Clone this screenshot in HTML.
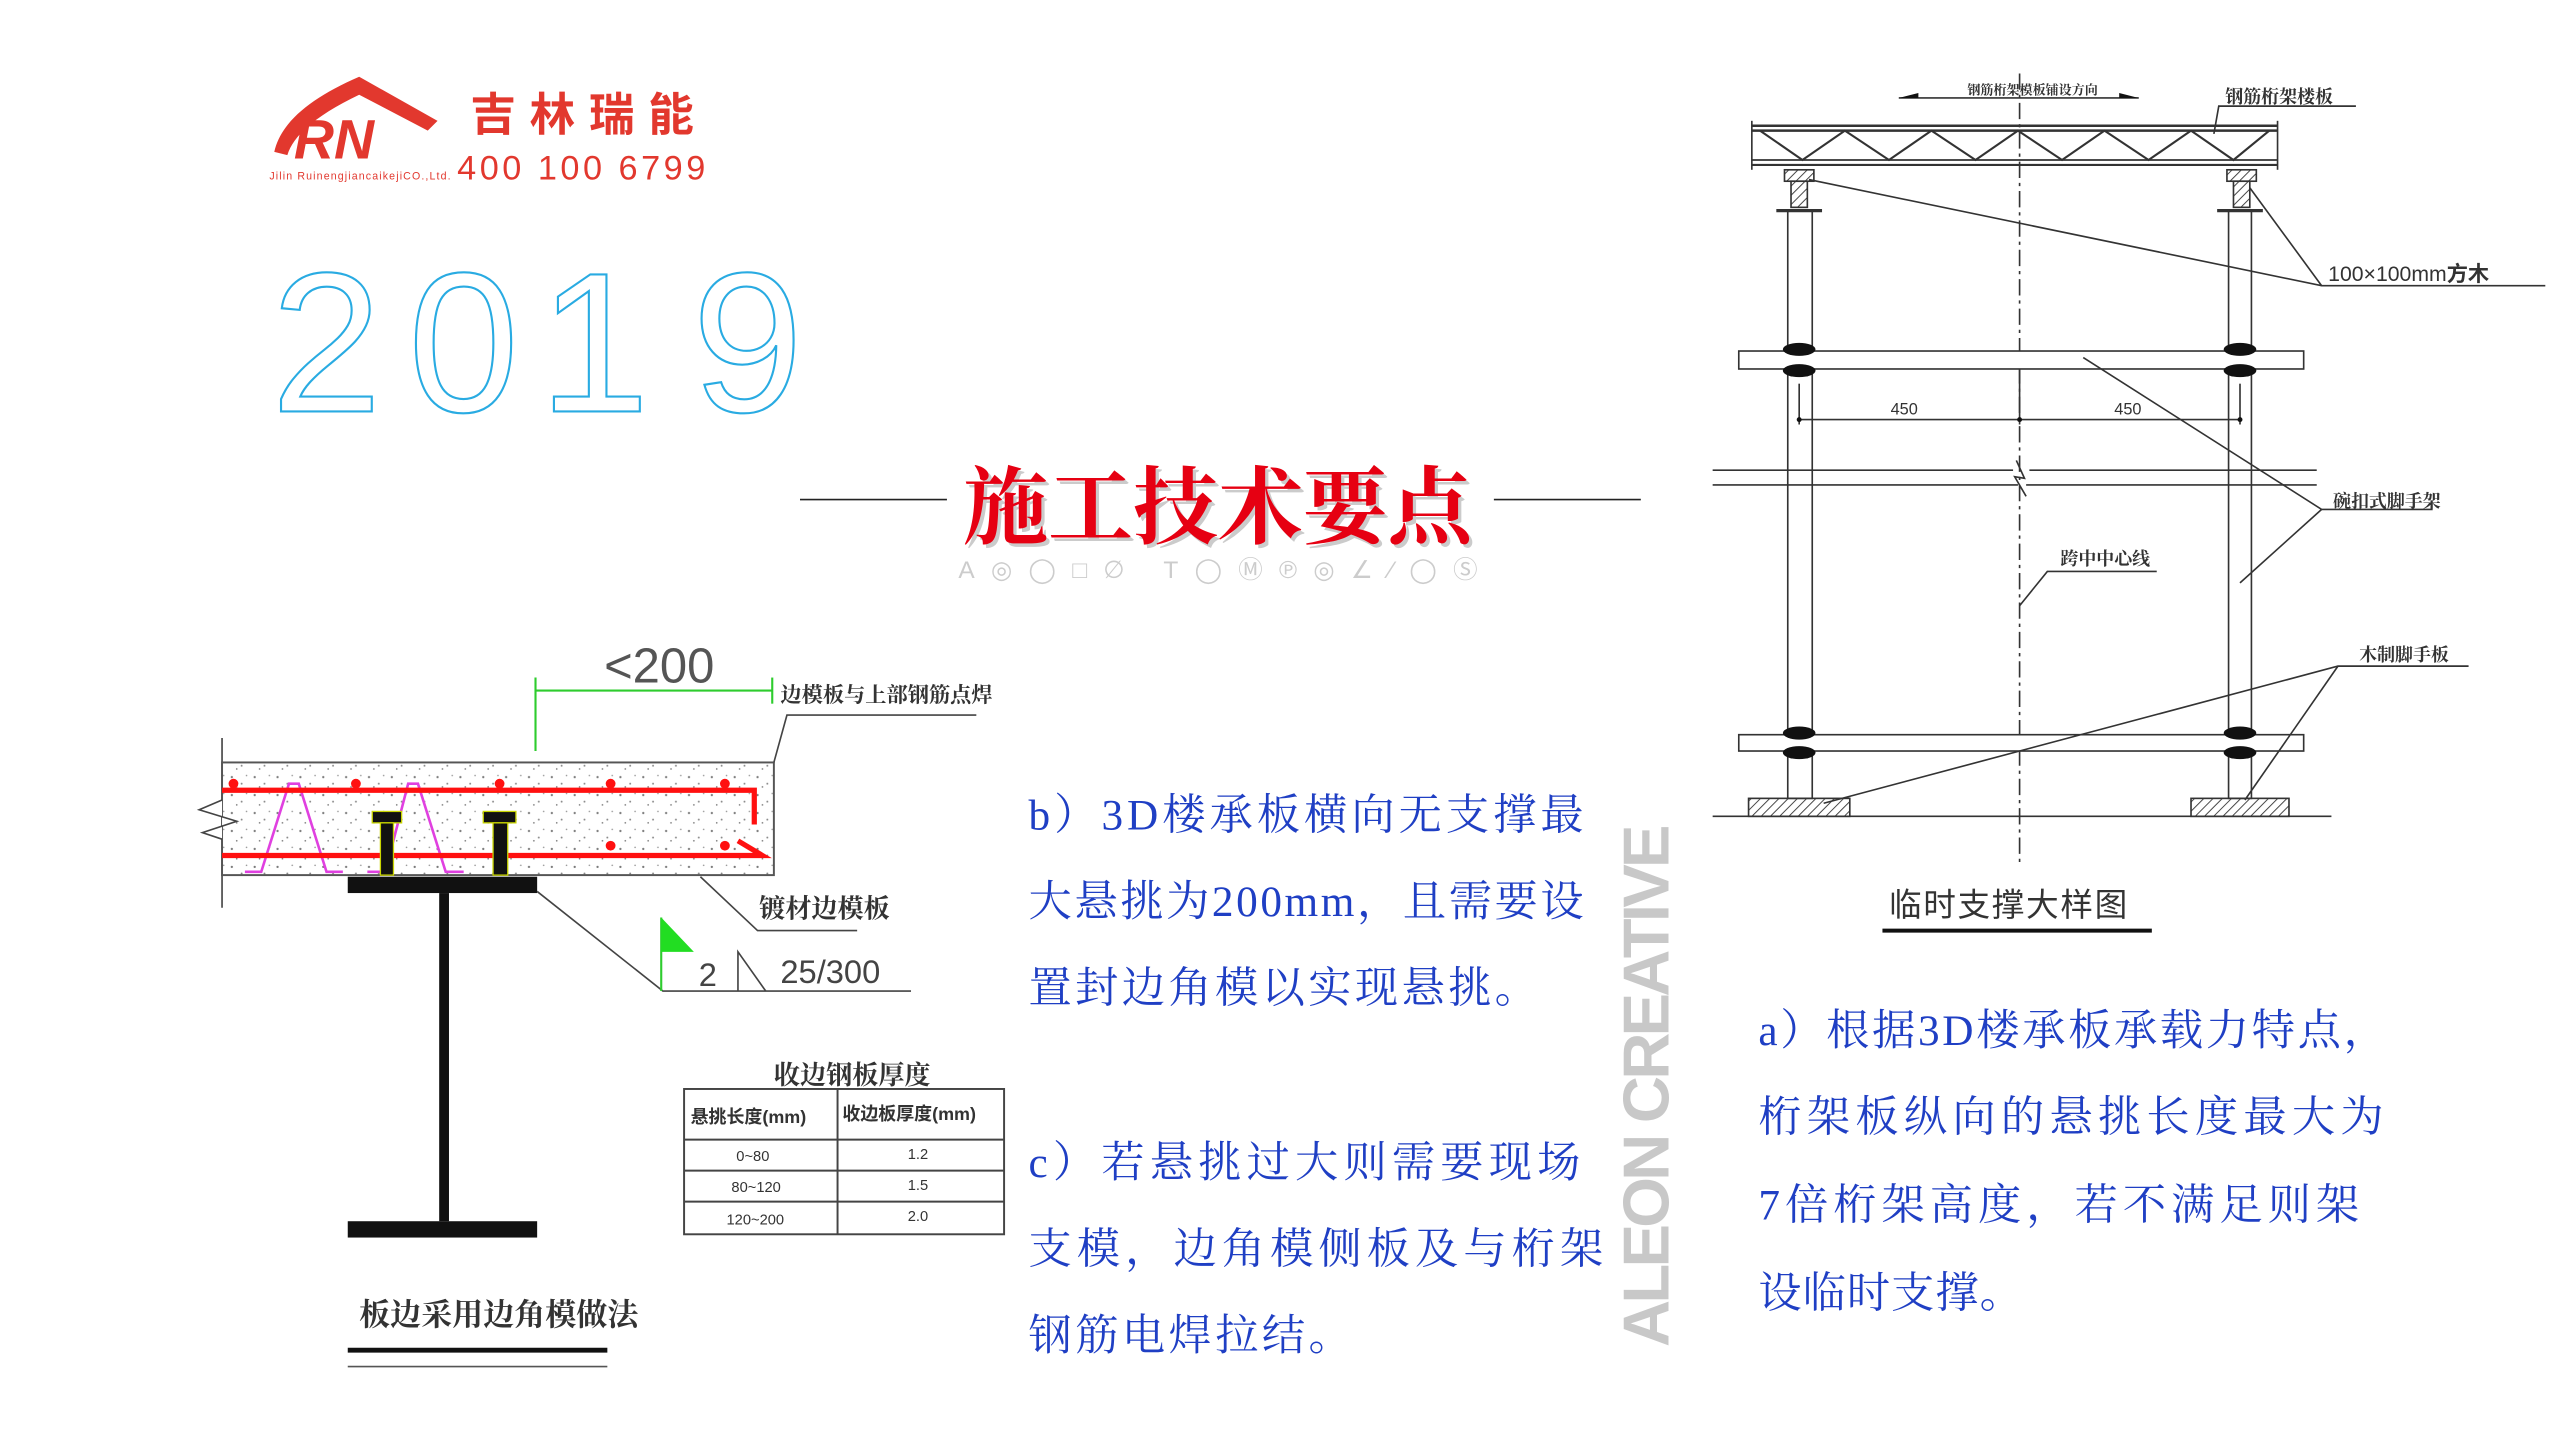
<!DOCTYPE html>
<html><head><meta charset="utf-8"><style>
html,body{margin:0;padding:0;background:#fff;}
svg{display:block;}
</style></head><body>
<svg width="2560" height="1440" viewBox="0 0 1568 882" xmlns="http://www.w3.org/2000/svg">
<defs>
<pattern id="sp" width="14" height="11" patternUnits="userSpaceOnUse">
<circle cx="2" cy="3" r="0.7" fill="#777"/><circle cx="8" cy="7" r="0.6" fill="#888"/><circle cx="11" cy="2" r="0.5" fill="#999"/><circle cx="5" cy="9" r="0.5" fill="#777"/>
</pattern>
<pattern id="hat" width="4" height="4" patternUnits="userSpaceOnUse" patternTransform="rotate(45)">
<line x1="0" y1="0" x2="0" y2="4" stroke="#444" stroke-width="1.2"/>
</pattern>
</defs>
<rect width="1568" height="882" fill="#fff"/>

<path d="M168,93 C172,75 190,60 220,47 L268,74 L262,80 L220,58 C195,70 180,82 176,95 Z" fill="#e2382e"/>
<text x="180" y="97" font-family="Liberation Sans, sans-serif" font-weight="bold" font-style="italic" font-size="34" fill="#e2382e">RN</text>
<text x="288" y="80" font-family="Liberation Sans, 'Noto Sans CJK SC', sans-serif" font-weight="bold" font-size="28" fill="#e2382e" textLength="137" lengthAdjust="spacing">吉林瑞能</text>
<text x="280" y="110" font-family="Liberation Sans, sans-serif" font-size="21" fill="#e2382e" textLength="152">400 100 6799</text>
<text x="165" y="110" font-family="Liberation Sans, sans-serif" font-size="6.5" fill="#e2382e" textLength="111">Jilin RuinengjiancaikejiCO.,Ltd.</text>

<g font-family="Liberation Sans, sans-serif" font-size="122" fill="none" stroke="#29abe2" stroke-width="1.3">
<text x="166" y="252">2</text><text x="250" y="252">0</text><text x="330" y="252">1</text><text x="424" y="252">9</text>
</g>

<line x1="490" y1="306" x2="580" y2="306" stroke="#222" stroke-width="1"/>
<line x1="915" y1="306" x2="1005" y2="306" stroke="#222" stroke-width="1"/>
<text x="592" y="331" font-family="'Liberation Serif','Noto Serif CJK SC',serif" font-weight="bold" font-size="52" fill="#999" opacity="0.5">施工技术要点</text>
<text x="590" y="329" font-family="'Liberation Serif','Noto Serif CJK SC',serif" font-weight="bold" font-size="52" fill="#e60012">施工技术要点</text>
<text x="587" y="354" font-family="Liberation Sans,'DejaVu Sans',sans-serif" font-size="15" fill="#ccc" textLength="318">A◎◯□∅ T◯Ⓜ℗◎∠⁄◯Ⓢ</text>

<line x1="136" y1="452" x2="136" y2="556" stroke="#444" stroke-width="1"/>
<rect x="136" y="467" width="338" height="69" fill="url(#sp)" stroke="#555" stroke-width="1.2"/>
<polyline points="136,490 122,496 145,503 124,510 136,514" fill="#fff" stroke="#444" stroke-width="1"/>
<polyline points="150,534 160,534 177,480 183,480 200,534 210,534" fill="none" stroke="#e040e0" stroke-width="1.6"/>
<polyline points="225,534 236,534 250,480 256,480 273,534 284,534" fill="none" stroke="#e040e0" stroke-width="1.6"/>
<polyline points="136,484 462,484 462,505" fill="none" stroke="#ff1010" stroke-width="3.2"/>
<polyline points="136,524 467,524 452,515" fill="none" stroke="#ff1010" stroke-width="3.2"/>
<g fill="#ff1010"><circle cx="143" cy="480" r="3"/><circle cx="218" cy="480" r="3"/><circle cx="306" cy="480" r="3"/><circle cx="374" cy="480" r="3"/><circle cx="444" cy="480" r="3"/><circle cx="306" cy="518" r="3"/><circle cx="374" cy="518" r="3"/><circle cx="444" cy="518" r="3"/></g>
<g fill="#111" stroke="#c8d400" stroke-width="0.8">
<rect x="228" y="497" width="18" height="7"/><rect x="233" y="504" width="8" height="32"/>
<rect x="296" y="497" width="20" height="7"/><rect x="302" y="504" width="9" height="32"/>
</g>
<rect x="213" y="537" width="116" height="10" fill="#111"/>
<rect x="269" y="547" width="6" height="201" fill="#111"/>
<rect x="213" y="748" width="116" height="10" fill="#111"/>
<line x1="328" y1="423" x2="473" y2="423" stroke="#2ecc2e" stroke-width="1.3"/>
<line x1="328" y1="415" x2="328" y2="460" stroke="#2ecc2e" stroke-width="1.3"/>
<line x1="473" y1="415" x2="473" y2="431" stroke="#2ecc2e" stroke-width="1.3"/>
<text x="370" y="418" font-family="Liberation Sans,sans-serif" font-size="30" fill="#555">&lt;200</text>
<text x="478" y="430" font-family="'Liberation Serif','Noto Serif CJK SC',serif" font-weight="bold" font-size="13" fill="#333">边模板与上部钢筋点焊</text>
<polyline points="474,467 482,438 598,438" fill="none" stroke="#444" stroke-width="1"/>
<text x="465" y="562" font-family="'Liberation Serif','Noto Serif CJK SC',serif" font-weight="bold" font-size="16" fill="#333">镀材边模板</text>
<polyline points="429,537 464,570 525,570" fill="none" stroke="#444" stroke-width="1"/>
<polyline points="329,546 406,607 558,607" fill="none" stroke="#444" stroke-width="1"/>
<line x1="405" y1="562" x2="405" y2="607" stroke="#2ecc2e" stroke-width="1.3"/>
<polygon points="405,562 425,583 405,583" fill="#22dd22"/>
<text x="428" y="604" font-family="Liberation Sans,sans-serif" font-size="20" fill="#444">2</text>
<polyline points="452,607 452,583 469,607" fill="none" stroke="#444" stroke-width="1"/>
<text x="478" y="602" font-family="Liberation Sans,sans-serif" font-size="20" fill="#444">25/300</text>
<text x="474" y="664" font-family="'Liberation Serif','Noto Serif CJK SC',serif" font-weight="bold" font-size="16" fill="#333">收边钢板厚度</text>
<rect x="419" y="667" width="196" height="89" fill="none" stroke="#444" stroke-width="1.2"/>
<line x1="513" y1="667" x2="513" y2="756" stroke="#444" stroke-width="1.2"/>
<line x1="419" y1="698" x2="615" y2="698" stroke="#444" stroke-width="1.2"/>
<line x1="419" y1="717" x2="615" y2="717" stroke="#444" stroke-width="1.2"/>
<line x1="419" y1="736" x2="615" y2="736" stroke="#444" stroke-width="1.2"/>
<g font-family="Liberation Sans,'Noto Sans CJK SC',sans-serif" font-size="11" fill="#333">
<text x="423" y="688" font-weight="bold">悬挑长度(mm)</text><text x="516" y="686" font-weight="bold">收边板厚度(mm)</text>
<text x="451" y="711" font-size="9">0~80</text><text x="556" y="710" font-size="9">1.2</text>
<text x="448" y="730" font-size="9">80~120</text><text x="556" y="729" font-size="9">1.5</text>
<text x="445" y="750" font-size="9">120~200</text><text x="556" y="748" font-size="9">2.0</text>
</g>
<text x="220" y="812" font-family="'Liberation Serif','Noto Serif CJK SC',serif" font-weight="bold" font-size="19" fill="#333">板边采用边角模做法</text>
<line x1="213" y1="827" x2="372" y2="827" stroke="#111" stroke-width="3"/>
<line x1="213" y1="837" x2="372" y2="837" stroke="#555" stroke-width="1"/>

<g font-family="'Liberation Serif','Noto Serif CJK SC',serif" font-size="26.5" fill="#1f3fc4" lengthAdjust="spacing">
<text x="630" y="508" textLength="340">b）3D楼承板横向无支撑最</text>
<text x="630" y="561" textLength="340">大悬挑为200mm，且需要设</text>
<text x="630" y="614" textLength="312">置封边角模以实现悬挑。</text>
<text x="630" y="721" textLength="338">c）若悬挑过大则需要现场</text>
<text x="630" y="774" textLength="352">支模，边角模侧板及与桁架</text>
<text x="630" y="827" textLength="198">钢筋电焊拉结。</text>
<text x="1077" y="640" textLength="385">a）根据3D楼承板承载力特点，</text>
<text x="1077" y="693" textLength="383">桁架板纵向的悬挑长度最大为</text>
<text x="1077" y="747" textLength="368">7倍桁架高度，若不满足则架</text>
<text x="1077" y="801" textLength="162">设临时支撑。</text>
</g>
<text transform="translate(1022,825) rotate(-90)" font-family="Liberation Sans,sans-serif" font-weight="bold" font-size="40" fill="#c8c8c8" textLength="320">ALEON CREATIVE</text>

<g stroke="#333" stroke-width="1" fill="none">
<line x1="1237" y1="45" x2="1237" y2="528" stroke-dasharray="10,3,2,3"/>
<line x1="1163" y1="60" x2="1310" y2="60"/>
<line x1="1073" y1="77" x2="1395" y2="77" stroke-width="1.5"/>
<line x1="1073" y1="80" x2="1395" y2="80" stroke-width="1.5"/>
<line x1="1073" y1="98" x2="1395" y2="98"/>
<line x1="1073" y1="101" x2="1395" y2="101" stroke-width="1.3"/>
<line x1="1073" y1="74" x2="1073" y2="104"/><line x1="1395" y1="74" x2="1395" y2="104"/>
<polyline points="1078,80 1104,98 1130,80 1157,98 1183,80 1210,98 1236,80 1263,98 1289,80 1316,98 1342,80 1368,98 1390,80" stroke-width="1.3"/>
<rect x="1093" y="104" width="18" height="7" fill="url(#hat)"/>
<rect x="1364" y="104" width="18" height="7" fill="url(#hat)"/>
<rect x="1097" y="111" width="10" height="16" fill="url(#hat)"/>
<rect x="1368" y="111" width="10" height="16" fill="url(#hat)"/>
<line x1="1088" y1="129" x2="1116" y2="129" stroke-width="2"/>
<line x1="1358" y1="129" x2="1386" y2="129" stroke-width="2"/>
<rect x="1095" y="129" width="15" height="360"/>
<rect x="1365" y="129" width="14" height="360"/>
<rect x="1065" y="215" width="346" height="11" fill="#fff"/>
<rect x="1065" y="450" width="346" height="10" fill="#fff"/>
<line x1="1049" y1="288" x2="1233" y2="288"/><line x1="1049" y1="297" x2="1236" y2="297"/>
<line x1="1243" y1="288" x2="1419" y2="288"/><line x1="1241" y1="297" x2="1419" y2="297"/>
<polyline points="1235,282 1240,293 1234,292 1241,304"/>
<line x1="1102" y1="257" x2="1372" y2="257"/>
<line x1="1102" y1="235" x2="1102" y2="260"/><line x1="1372" y1="235" x2="1372" y2="260"/><line x1="1237" y1="226" x2="1237" y2="260"/>
<rect x="1071" y="489" width="62" height="11" fill="url(#hat)"/>
<rect x="1342" y="489" width="60" height="11" fill="url(#hat)"/>
<line x1="1049" y1="500" x2="1428" y2="500"/>
<polyline points="1108,110 1422,175 1559,175"/>
<line x1="1378" y1="115" x2="1422" y2="175"/>
<polyline points="1276,219 1422,312 1490,312"/>
<line x1="1372" y1="357" x2="1422" y2="312"/>
<polyline points="1237,371 1254,350 1321,350"/>
<polyline points="1117,492 1432,408 1512,408"/>
<line x1="1375" y1="490" x2="1432" y2="408"/>
<polyline points="1356,82 1359,65 1443,65"/>
</g>
<g fill="#111">
<ellipse cx="1102" cy="214" rx="10" ry="4"/><ellipse cx="1102" cy="227" rx="10" ry="4"/>
<ellipse cx="1372" cy="214" rx="10" ry="4"/><ellipse cx="1372" cy="227" rx="10" ry="4"/>
<ellipse cx="1102" cy="449" rx="10" ry="4"/><ellipse cx="1102" cy="461" rx="10" ry="4"/>
<ellipse cx="1372" cy="449" rx="10" ry="4"/><ellipse cx="1372" cy="461" rx="10" ry="4"/>
<polygon points="1163,60 1175,57 1175,60"/><polygon points="1310,60 1298,57 1298,60"/>
<circle cx="1102" cy="257" r="1.5"/><circle cx="1237" cy="257" r="1.5"/><circle cx="1372" cy="257" r="1.5"/>
</g>
<g font-family="'Liberation Serif','Noto Serif CJK SC',serif" font-weight="bold" fill="#333">
<text x="1205" y="58" font-size="8">钢筋桁架模板铺设方向</text>
<text x="1363" y="63" font-size="11">钢筋桁架楼板</text>
<text x="1429" y="311" font-size="11">碗扣式脚手架</text>
<text x="1262" y="346" font-size="11">跨中中心线</text>
<text x="1445" y="405" font-size="11">木制脚手板</text>
</g>
<text x="1426" y="172" font-family="Liberation Sans,'Noto Sans CJK SC',sans-serif" font-size="13" fill="#333">100×100mm<tspan font-weight="bold">方木</tspan></text>
<text x="1158" y="254" font-family="Liberation Sans,sans-serif" font-size="10" fill="#333">450</text>
<text x="1295" y="254" font-family="Liberation Sans,sans-serif" font-size="10" fill="#333">450</text>
<text x="1157" y="561" font-family="'Liberation Sans','Noto Sans CJK SC',sans-serif" font-size="20" fill="#333" letter-spacing="1">临时支撑大样图</text>
<line x1="1153" y1="570" x2="1318" y2="570" stroke="#111" stroke-width="2.5"/>
</svg>
</body></html>
